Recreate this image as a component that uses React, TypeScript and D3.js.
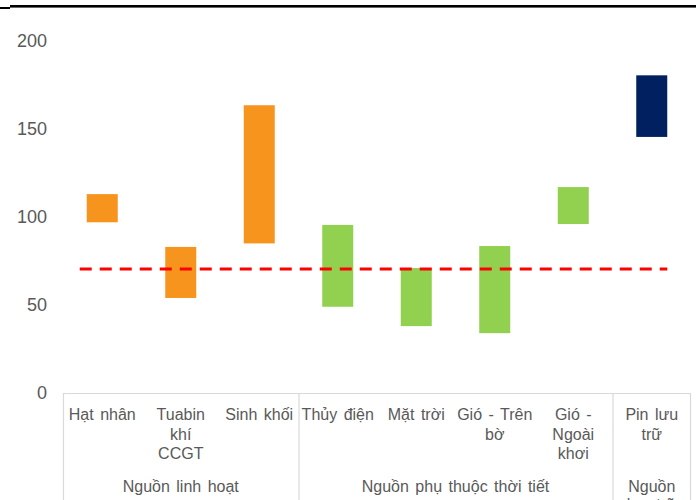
import React from "react";
import * as d3 from "d3";

const categories = ["Hạt nhân", "Tuabin khí CCGT", "Sinh khối", "Thủy điện", "Mặt trời", "Gió - Trên bờ", "Gió - Ngoài khơi", "Pin lưu trữ"];
const categoryLines = [["Hạt nhân"], ["Tuabin", "khí", "CCGT"], ["Sinh khối"], ["Thủy điện"], ["Mặt trời"], ["Gió - Trên", "bờ"], ["Gió -", "Ngoài", "khơi"], ["Pin lưu", "trữ"]];
const lowValues = [97, 54, 85, 49, 38, 34, 96, 145.5];
const highValues = [113, 83, 163.5, 95.5, 71, 83.5, 117, 180.5];
const groupOf = [0, 0, 0, 1, 1, 1, 1, 2];
const groupNames = [["Nguồn linh hoạt"], ["Nguồn phụ thuộc thời tiết"], ["Nguồn", "lưu trữ"]];
const groupColors = ["#F7941D", "#92D050", "#002060"];
const referenceValue = 70.5;
const yTicks = [0, 50, 100, 150, 200];

const W = 696;
const H = 500;

export default function App() {
  const x = d3.scaleBand<string>().domain(categories).range([63, 691]).padding(0);
  const y = d3.scaleLinear().domain([0, 200]).range([393, 41]);
  const bw = x.bandwidth();
  const barW = 31;
  const textColor = "#595959";
  const font = "'Liberation Sans', Arial, sans-serif";

  const groupIdx = d3.range(groupNames.length);
  const groupRange = groupIdx.map((g) => {
    const idx = categories.map((_, i) => i).filter((i) => groupOf[i] === g);
    const x0 = x(categories[idx[0]])!;
    const x1 = x(categories[idx[idx.length - 1]])! + bw;
    return [x0, x1];
  });

  const firstC = x(categories[0])! + bw / 2;
  const lastC = x(categories[categories.length - 1])! + bw / 2;

  return (
    <svg width={W} height={H} style={{ position: "absolute", left: 0, top: 0, background: "#fff" }} fontFamily={font}>
      <rect x={10} y={5} width={W - 10} height={2.6} fill="#000" />
      <rect x={0} y={7} width={10} height={2} fill="#000" />

      {yTicks.map((t) => (
        <text key={t} x={47} y={y(t)} dy="0.36em" textAnchor="end" fontSize={18} fill={textColor}>
          {t}
        </text>
      ))}

      {categories.map((c, i) => {
        const cx = x(c)! + bw / 2;
        return (
          <rect
            key={c}
            x={cx - barW / 2}
            y={y(highValues[i])}
            width={barW}
            height={y(lowValues[i]) - y(highValues[i])}
            fill={groupColors[groupOf[i]]}
          />
        );
      })}

      <line
        x1={firstC - 22.5}
        x2={lastC + 15.5}
        y1={y(referenceValue)}
        y2={y(referenceValue)}
        stroke="#FF0000"
        strokeWidth={3}
        strokeDasharray="12,8"
      />

      <line x1={63} x2={691} y1={393.5} y2={393.5} stroke="#d9d9d9" strokeWidth={1.2} />
      {groupRange.map(([a, b], g) => (
        <g key={g}>
          <line x1={a + 0.5} x2={a + 0.5} y1={393.5} y2={H} stroke="#d9d9d9" strokeWidth={1.2} />
          {g === groupRange.length - 1 && (
            <line x1={b - 0.5} x2={b - 0.5} y1={393.5} y2={H} stroke="#d9d9d9" strokeWidth={1.2} />
          )}
          {groupNames[g].map((ln, k) => (
            <text key={k} x={(a + b) / 2} y={492 + k * 18} textAnchor="middle" fontSize={16} fill={textColor} wordSpacing={2}>
              {ln}
            </text>
          ))}
        </g>
      ))}

      {categories.map((c, i) => {
        const cx = x(c)! + bw / 2;
        return (
          <g key={c}>
            {categoryLines[i].map((ln, k) => (
              <text key={k} x={cx} y={420 + k * 19.5} textAnchor="middle" fontSize={16} fill={textColor} wordSpacing={2}>
                {ln}
              </text>
            ))}
          </g>
        );
      })}
    </svg>
  );
}
